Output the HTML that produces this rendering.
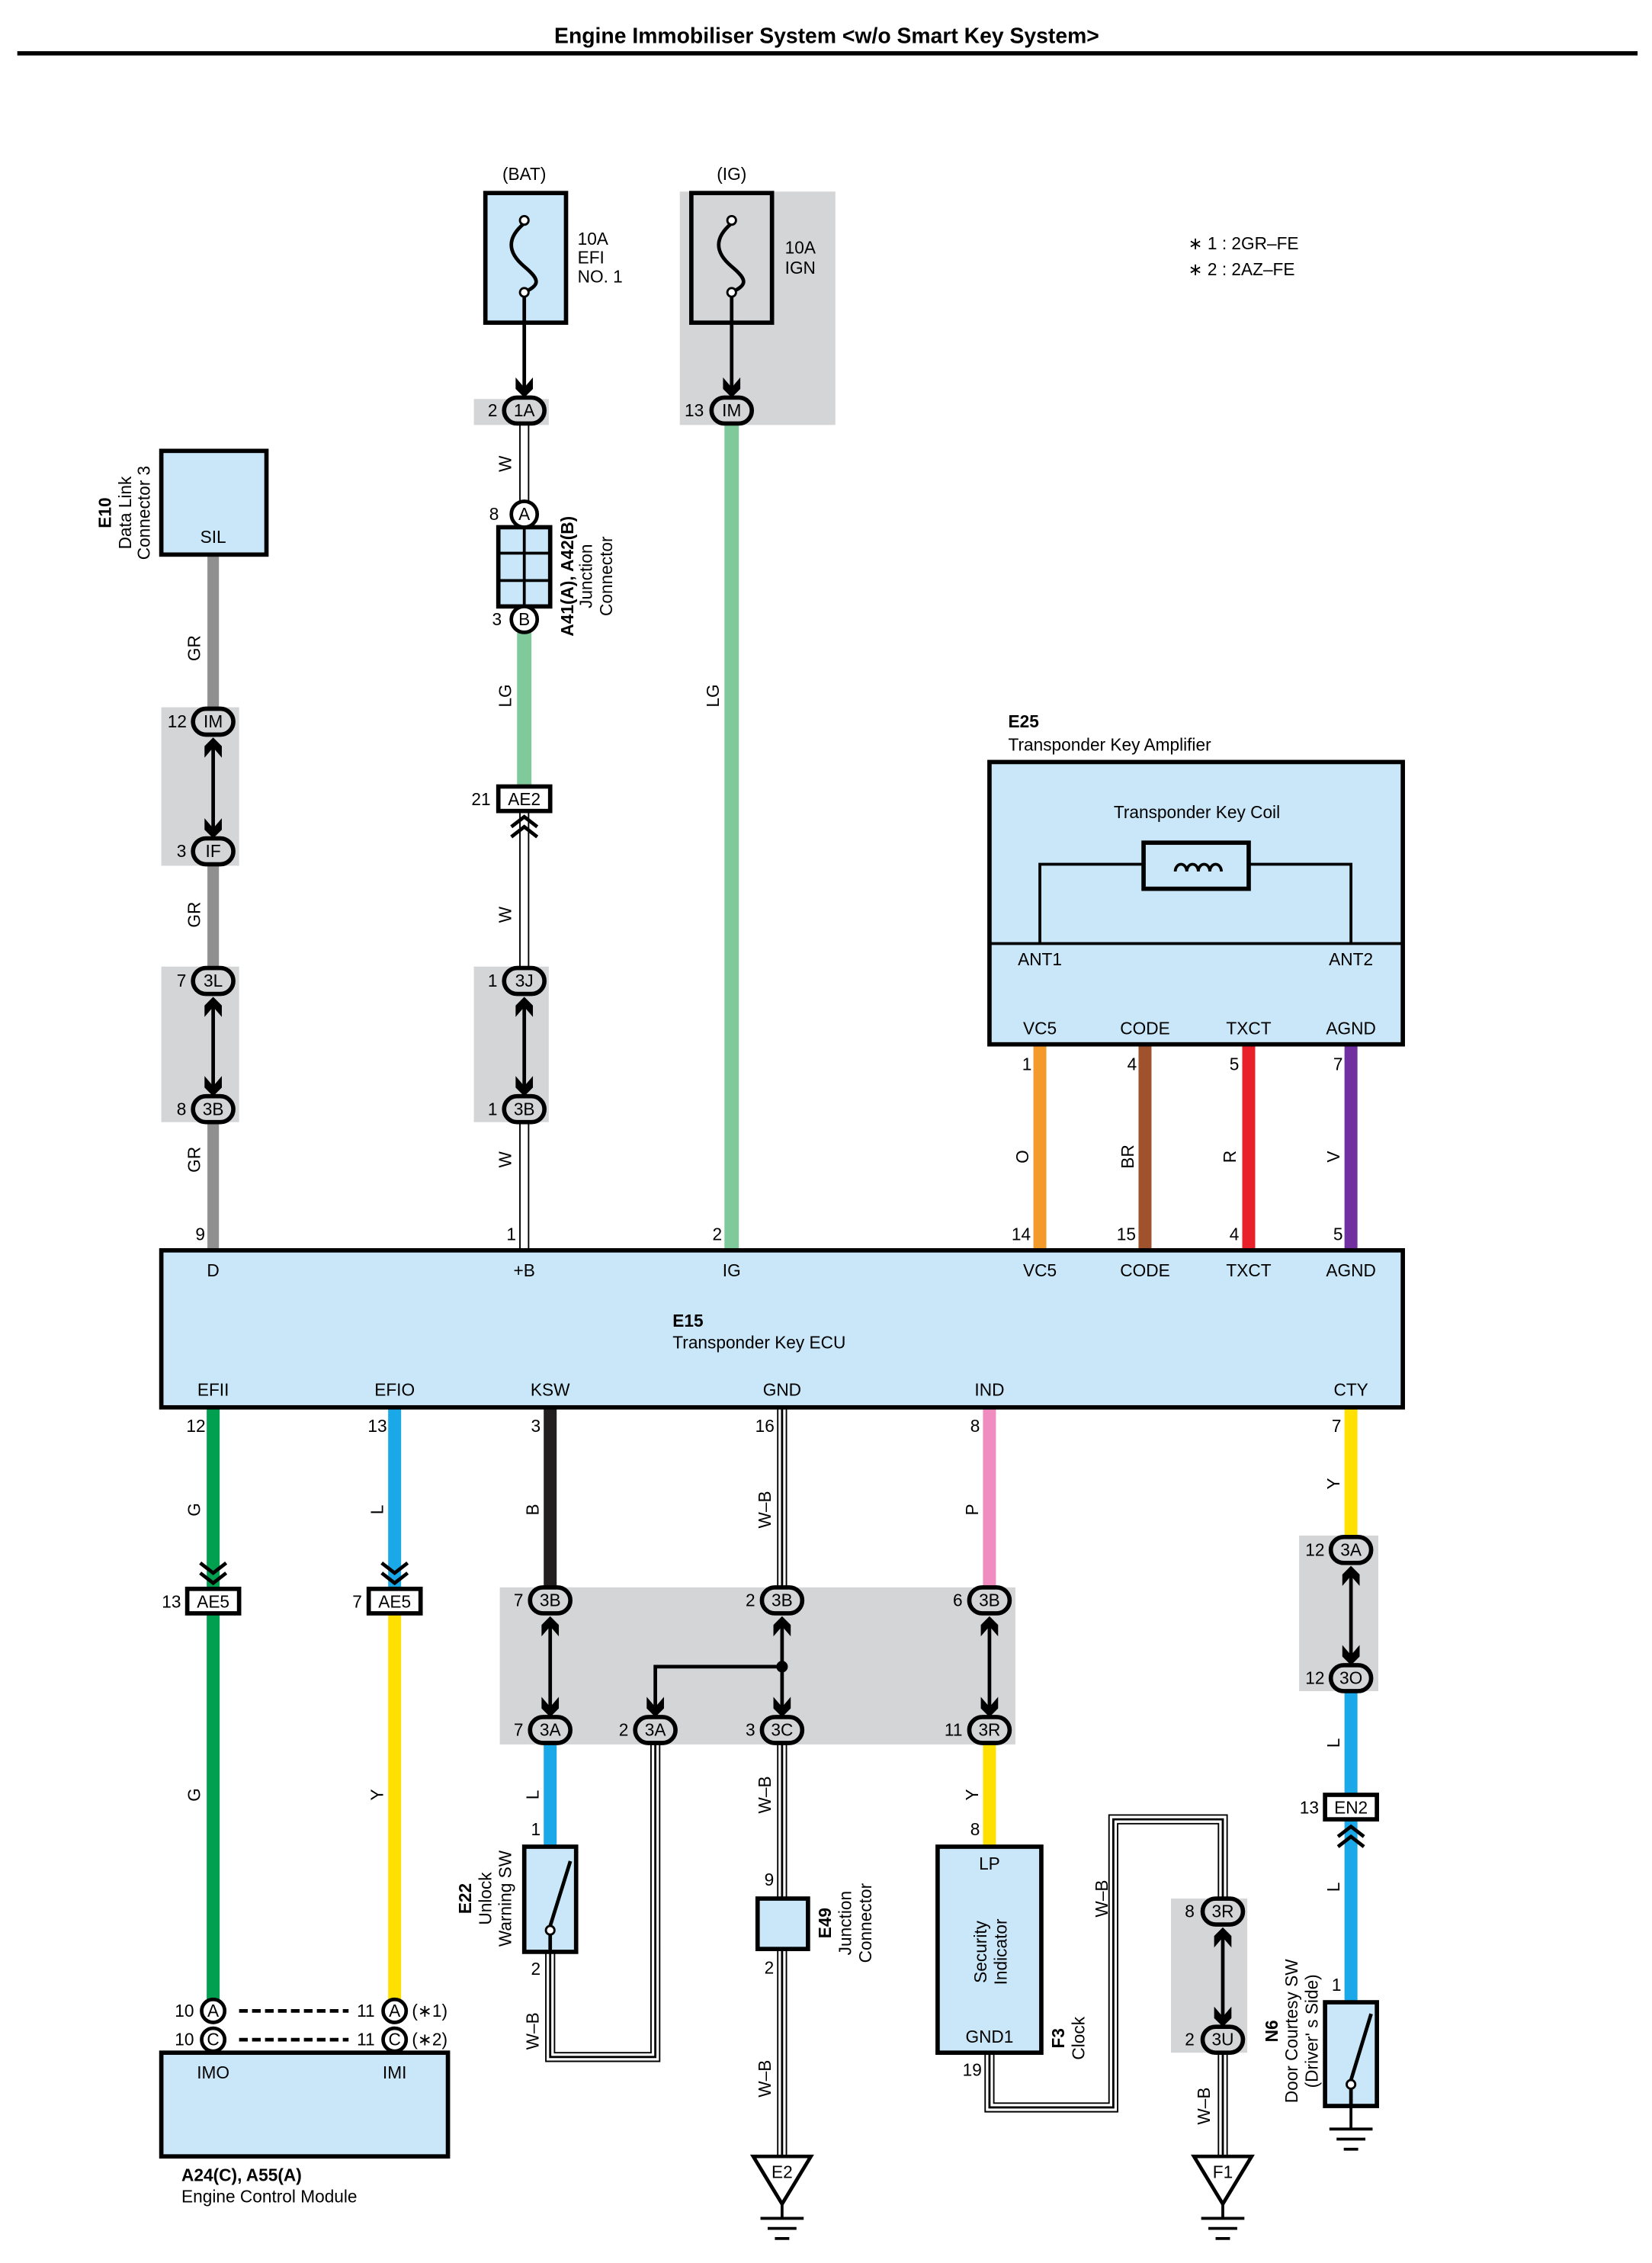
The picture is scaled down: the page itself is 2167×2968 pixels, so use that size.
<!DOCTYPE html>
<html><head><meta charset="utf-8"><style>
html,body{margin:0;padding:0;background:#fff}
svg{display:block}
text{font-family:"Liberation Sans",sans-serif;font-size:12px;fill:#000}
.b{font-weight:bold}
.c{text-anchor:middle}
.cn{font-size:12px;text-anchor:middle}
</style></head><body>
<svg width="2167" height="2968" viewBox="0 0 1147 1571" xmlns="http://www.w3.org/2000/svg">
<defs>
<g id="ad"><path d="M-6,-12 L0,-5 L6,-12 L6,-4 L0,2 L-6,-4 Z" fill="#000"/></g>
<g id="au"><path d="M-6,12 L0,5 L6,12 L6,4 L0,-2 L-6,4 Z" fill="#000"/></g>
</defs>
<rect width="1147" height="1571" fill="#fff"/>
<text x="574" y="30" class="b c" style="font-size:15px">Engine Immobiliser System &lt;w/o Smart Key System&gt;</text>
<line x1="12" y1="37" x2="1137" y2="37" stroke="#000" stroke-width="3"/>

<text x="825" y="173">∗ 1 : 2GR–FE</text>
<text x="825" y="191">∗ 2 : 2AZ–FE</text>

<!-- gray areas -->
<g fill="#d4d5d7">
<rect x="472" y="133" width="108" height="162"/>
<rect x="329" y="277" width="52" height="18"/>
<rect x="112" y="491" width="54" height="110"/>
<rect x="112" y="671" width="54" height="108"/>
<rect x="329" y="671" width="52" height="108"/>
<rect x="347" y="1102" width="358" height="109"/>
<rect x="902" y="1066" width="55" height="108"/>
<rect x="813" y="1318" width="53" height="107"/>
</g>

<!-- fuses -->
<text x="364" y="125" class="c">(BAT)</text>
<rect x="337" y="134" width="56" height="90" fill="#c9e7f8" stroke="#000" stroke-width="3"/>
<path d="M364,155 C352,165 352,175 364,185 C376,195 374,198 364,203" fill="none" stroke="#000" stroke-width="2.5"/>
<circle cx="364" cy="153" r="3" fill="#fff" stroke="#000" stroke-width="1.5"/>
<circle cx="364" cy="203" r="3" fill="#fff" stroke="#000" stroke-width="1.5"/>
<line x1="364" y1="206" x2="364" y2="272" stroke="#000" stroke-width="2.5"/>
<use href="#ad" x="364" y="274"/>
<text x="401" y="170">10A</text><text x="401" y="183">EFI</text><text x="401" y="196">NO. 1</text>

<text x="508" y="125" class="c">(IG)</text>
<rect x="480" y="134" width="56" height="90" fill="none" stroke="#000" stroke-width="3"/>
<path d="M508,155 C496,165 496,175 508,185 C520,195 518,198 508,203" fill="none" stroke="#000" stroke-width="2.5"/>
<circle cx="508" cy="153" r="3" fill="#fff" stroke="#000" stroke-width="1.5"/>
<circle cx="508" cy="203" r="3" fill="#fff" stroke="#000" stroke-width="1.5"/>
<line x1="508" y1="206" x2="508" y2="272" stroke="#000" stroke-width="2.5"/>
<use href="#ad" x="508" y="274"/>
<text x="545" y="176">10A</text><text x="545" y="190">IGN</text>

<!-- wires -->
<g fill="none">
<line x1="508" y1="294" x2="508" y2="868" stroke="#7fc99a" stroke-width="10"/>
<line x1="364" y1="439" x2="364" y2="546" stroke="#7fc99a" stroke-width="10"/>
<line x1="148" y1="385" x2="148" y2="492" stroke="#909090" stroke-width="8"/>
<line x1="148" y1="600" x2="148" y2="672" stroke="#909090" stroke-width="8"/>
<line x1="148" y1="779" x2="148" y2="868" stroke="#909090" stroke-width="8"/>
<line x1="722" y1="725" x2="722" y2="868" stroke="#f39a2b" stroke-width="9"/>
<line x1="795" y1="725" x2="795" y2="868" stroke="#a0522d" stroke-width="9"/>
<line x1="867" y1="725" x2="867" y2="868" stroke="#e8202a" stroke-width="9"/>
<line x1="938" y1="725" x2="938" y2="868" stroke="#7030a0" stroke-width="9"/>
<line x1="148" y1="977" x2="148" y2="1388" stroke="#00a050" stroke-width="9"/>
<line x1="274" y1="977" x2="274" y2="1103" stroke="#1aa8e8" stroke-width="9"/>
<line x1="274" y1="1120" x2="274" y2="1388" stroke="#ffe000" stroke-width="9"/>
<line x1="382" y1="977" x2="382" y2="1103" stroke="#231f20" stroke-width="9"/>
<line x1="382" y1="1211" x2="382" y2="1282" stroke="#1aa8e8" stroke-width="9"/>
<line x1="687" y1="977" x2="687" y2="1103" stroke="#f08cc0" stroke-width="9"/>
<line x1="687" y1="1211" x2="687" y2="1282" stroke="#ffe000" stroke-width="9"/>
<line x1="938" y1="977" x2="938" y2="1067" stroke="#ffe000" stroke-width="9"/>
<line x1="938" y1="1174" x2="938" y2="1390" stroke="#1aa8e8" stroke-width="9"/>
<!-- white double wires -->
<g stroke="#000" stroke-width="7">
<line x1="364" y1="294" x2="364" y2="349"/>
<line x1="364" y1="563" x2="364" y2="672"/>
<line x1="364" y1="779" x2="364" y2="868"/>
<line x1="543" y1="977" x2="543" y2="1102"/>
<line x1="543" y1="1210" x2="543" y2="1497"/>
<polyline points="382,1355 382,1428 455,1428 455,1211"/>
<polyline points="687,1425 687,1463 773,1463 773,1263 849,1263 849,1318"/>
<line x1="849" y1="1425" x2="849" y2="1497"/>
</g>
<g stroke="#fff" stroke-width="5">
<line x1="364" y1="294" x2="364" y2="349"/>
<line x1="364" y1="563" x2="364" y2="672"/>
<line x1="364" y1="779" x2="364" y2="868"/>
<line x1="543" y1="977" x2="543" y2="1102"/>
<line x1="543" y1="1210" x2="543" y2="1497"/>
<polyline points="382,1355 382,1428 455,1428 455,1211"/>
<polyline points="687,1425 687,1463 773,1463 773,1263 849,1263 849,1318"/>
<line x1="849" y1="1425" x2="849" y2="1497"/>
</g>
<g stroke="#000" stroke-width="1.5">
<line x1="543" y1="977" x2="543" y2="1102"/>
<line x1="543" y1="1210" x2="543" y2="1497"/>
<polyline points="382,1355 382,1428 455,1428 455,1211"/>
<polyline points="687,1425 687,1463 773,1463 773,1263 849,1263 849,1318"/>
<line x1="849" y1="1425" x2="849" y2="1497"/>
</g>
</g>

<!-- E10 -->
<rect x="112" y="313" width="73" height="72" fill="#c9e7f8" stroke="#000" stroke-width="3"/>
<text x="148" y="377" class="c">SIL</text>
<text transform="translate(77,356) rotate(-90)" class="b c">E10</text>
<text transform="translate(91,356) rotate(-90)" class="c">Data Link</text>
<text transform="translate(104,356) rotate(-90)" class="c">Connector 3</text>

<!-- Junction A41/A42 -->
<rect x="346" y="366" width="36" height="55" fill="#c9e7f8" stroke="#000" stroke-width="3"/>
<g stroke="#000" stroke-width="2"><line x1="364" y1="366" x2="364" y2="421"/><line x1="346" y1="384" x2="382" y2="384"/><line x1="346" y1="403" x2="382" y2="403"/></g>
<circle cx="364" cy="357" r="9" fill="#fff" stroke="#000" stroke-width="2.5"/><text x="364" y="361" class="cn">A</text>
<circle cx="364" cy="430" r="9" fill="#fff" stroke="#000" stroke-width="2.5"/><text x="364" y="434" class="cn">B</text>
<text x="343" y="361" class="c">8</text><text x="345" y="434" class="c">3</text>
<text transform="translate(398,400) rotate(-90)" class="b c">A41(A), A42(B)</text>
<text transform="translate(411,400) rotate(-90)" class="c">Junction</text>
<text transform="translate(425,400) rotate(-90)" class="c">Connector</text>

<!-- connector ovals -->
<g fill="#d4d5d7" stroke="#000" stroke-width="3">
<rect x="350" y="276" width="28" height="18" rx="9"/>
<rect x="494" y="276" width="28" height="18" rx="9"/>
<rect x="134" y="492" width="28" height="18" rx="9"/>
<rect x="134" y="582" width="28" height="18" rx="9"/>
<rect x="134" y="672" width="28" height="18" rx="9"/>
<rect x="134" y="761" width="28" height="18" rx="9"/>
<rect x="350" y="672" width="28" height="18" rx="9"/>
<rect x="350" y="761" width="28" height="18" rx="9"/>
<rect x="368" y="1102" width="28" height="18" rx="9"/>
<rect x="368" y="1192" width="28" height="18" rx="9"/>
<rect x="441" y="1192" width="28" height="18" rx="9"/>
<rect x="529" y="1102" width="28" height="18" rx="9"/>
<rect x="529" y="1192" width="28" height="18" rx="9"/>
<rect x="673" y="1102" width="28" height="18" rx="9"/>
<rect x="673" y="1192" width="28" height="18" rx="9"/>
<rect x="924" y="1067" width="28" height="18" rx="9"/>
<rect x="924" y="1156" width="28" height="18" rx="9"/>
<rect x="835" y="1318" width="28" height="18" rx="9"/>
<rect x="835" y="1407" width="28" height="18" rx="9"/>
</g>
<g class="cn">
<text x="364" y="289" class="cn">1A</text><text x="508" y="289" class="cn">IM</text>
<text x="148" y="505" class="cn">IM</text><text x="148" y="595" class="cn">IF</text>
<text x="148" y="685" class="cn">3L</text><text x="148" y="774" class="cn">3B</text>
<text x="364" y="685" class="cn">3J</text><text x="364" y="774" class="cn">3B</text>
<text x="382" y="1115" class="cn">3B</text><text x="382" y="1205" class="cn">3A</text>
<text x="455" y="1205" class="cn">3A</text>
<text x="543" y="1115" class="cn">3B</text><text x="543" y="1205" class="cn">3C</text>
<text x="687" y="1115" class="cn">3B</text><text x="687" y="1205" class="cn">3R</text>
<text x="938" y="1080" class="cn">3A</text><text x="938" y="1169" class="cn">3O</text>
<text x="849" y="1331" class="cn">3R</text><text x="849" y="1420" class="cn">3U</text>
</g>
<text x="342" y="289" class="c">2</text><text x="482" y="289" class="c">13</text>
<text x="123" y="505" class="c">12</text><text x="126" y="595" class="c">3</text>
<text x="126" y="685" class="c">7</text><text x="126" y="774" class="c">8</text>
<text x="342" y="685" class="c">1</text><text x="342" y="774" class="c">1</text>
<text x="360" y="1115" class="c">7</text><text x="360" y="1205" class="c">7</text>
<text x="433" y="1205" class="c">2</text>
<text x="521" y="1115" class="c">2</text><text x="521" y="1205" class="c">3</text>
<text x="665" y="1115" class="c">6</text><text x="662" y="1205" class="c">11</text>
<text x="913" y="1080" class="c">12</text><text x="913" y="1169" class="c">12</text>
<text x="826" y="1331" class="c">8</text><text x="826" y="1420" class="c">2</text>

<!-- bidirectional arrows -->
<g stroke="#000" stroke-width="2.5">
<line x1="148" y1="515" x2="148" y2="578"/><line x1="148" y1="695" x2="148" y2="757"/>
<line x1="364" y1="695" x2="364" y2="757"/>
<line x1="382" y1="1125" x2="382" y2="1188"/><line x1="687" y1="1125" x2="687" y2="1188"/>
<line x1="543" y1="1125" x2="543" y2="1188"/>
<polyline points="543,1157 455,1157 455,1188" fill="none"/>
<line x1="938" y1="1090" x2="938" y2="1152"/><line x1="849" y1="1341" x2="849" y2="1403"/>
</g>
<circle cx="543" cy="1157" r="4" fill="#000"/>
<use href="#au" x="148" y="514"/><use href="#ad" x="148" y="580"/>
<use href="#au" x="148" y="694"/><use href="#ad" x="148" y="759"/>
<use href="#au" x="364" y="694"/><use href="#ad" x="364" y="759"/>
<use href="#au" x="382" y="1124"/><use href="#ad" x="382" y="1190"/>
<use href="#au" x="543" y="1124"/><use href="#ad" x="543" y="1190"/><use href="#ad" x="455" y="1190"/>
<use href="#au" x="687" y="1124"/><use href="#ad" x="687" y="1190"/>
<use href="#au" x="938" y="1089"/><use href="#ad" x="938" y="1154"/>
<use href="#au" x="849" y="1340"/><use href="#ad" x="849" y="1405"/>

<!-- rectangular connectors -->
<g fill="#fff" stroke="#000" stroke-width="3">
<rect x="346" y="546" width="36" height="17"/>
<rect x="130" y="1103" width="36" height="17"/>
<rect x="256" y="1103" width="36" height="17"/>
<rect x="920" y="1246" width="36" height="17"/>
</g>
<text x="364" y="559" class="cn">AE2</text><text x="148" y="1116" class="cn">AE5</text>
<text x="274" y="1116" class="cn">AE5</text><text x="938" y="1259" class="cn">EN2</text>
<text x="334" y="559" class="c">21</text><text x="119" y="1116" class="c">13</text>
<text x="248" y="1116" class="c">7</text><text x="909" y="1259" class="c">13</text>
<g fill="none" stroke="#000" stroke-width="2.5">
<polyline points="355,574 364,567 373,574"/><polyline points="355,581 364,574 373,581"/>
<polyline points="929,1275 938,1268 947,1275"/><polyline points="929,1282 938,1275 947,1282"/>
<polyline points="139,1085 148,1092 157,1085"/><polyline points="139,1092 148,1099 157,1092"/>
<polyline points="265,1085 274,1092 283,1085"/><polyline points="265,1092 274,1099 283,1092"/>
</g>

<!-- E25 -->
<text x="700" y="505" class="b">E25</text>
<text x="700" y="521">Transponder Key Amplifier</text>
<rect x="687" y="529" width="287" height="196" fill="#c9e7f8" stroke="#000" stroke-width="3"/>
<line x1="687" y1="655" x2="974" y2="655" stroke="#000" stroke-width="2"/>
<text x="831" y="568" class="c">Transponder Key Coil</text>
<polyline points="722,655 722,600 794,600" fill="none" stroke="#000" stroke-width="2"/>
<polyline points="867,600 938,600 938,655" fill="none" stroke="#000" stroke-width="2"/>
<rect x="794" y="585" width="73" height="32" fill="none" stroke="#000" stroke-width="3"/>
<path d="M816,605 a4,5 0 1 1 8,0 a4,5 0 1 1 8,0 a4,5 0 1 1 8,0 a4,5 0 1 1 8,0" fill="none" stroke="#000" stroke-width="2"/>
<text x="722" y="670" class="c">ANT1</text><text x="938" y="670" class="c">ANT2</text>
<text x="722" y="718" class="c">VC5</text><text x="795" y="718" class="c">CODE</text>
<text x="867" y="718" class="c">TXCT</text><text x="938" y="718" class="c">AGND</text>
<text x="713" y="743" class="c">1</text><text x="786" y="743" class="c">4</text>
<text x="857" y="743" class="c">5</text><text x="929" y="743" class="c">7</text>
<text x="709" y="861" class="c">14</text><text x="782" y="861" class="c">15</text>
<text x="857" y="861" class="c">4</text><text x="929" y="861" class="c">5</text>

<!-- wire color labels -->
<g class="c">
<text transform="translate(139,450) rotate(-90)" class="c">GR</text>
<text transform="translate(139,635) rotate(-90)" class="c">GR</text>
<text transform="translate(139,805) rotate(-90)" class="c">GR</text>
<text transform="translate(355,322) rotate(-90)" class="c">W</text>
<text transform="translate(355,483) rotate(-90)" class="c">LG</text>
<text transform="translate(355,635) rotate(-90)" class="c">W</text>
<text transform="translate(355,805) rotate(-90)" class="c">W</text>
<text transform="translate(499,483) rotate(-90)" class="c">LG</text>
<text transform="translate(714,803) rotate(-90)" class="c">O</text>
<text transform="translate(787,803) rotate(-90)" class="c">BR</text>
<text transform="translate(858,803) rotate(-90)" class="c">R</text>
<text transform="translate(930,803) rotate(-90)" class="c">V</text>
<text transform="translate(139,1048) rotate(-90)" class="c">G</text>
<text transform="translate(139,1246) rotate(-90)" class="c">G</text>
<text transform="translate(266,1048) rotate(-90)" class="c">L</text>
<text transform="translate(266,1246) rotate(-90)" class="c">Y</text>
<text transform="translate(374,1048) rotate(-90)" class="c">B</text>
<text transform="translate(374,1246) rotate(-90)" class="c">L</text>
<text transform="translate(374,1410) rotate(-90)" class="c">W–B</text>
<text transform="translate(535,1048) rotate(-90)" class="c">W–B</text>
<text transform="translate(535,1246) rotate(-90)" class="c">W–B</text>
<text transform="translate(535,1443) rotate(-90)" class="c">W–B</text>
<text transform="translate(679,1048) rotate(-90)" class="c">P</text>
<text transform="translate(679,1246) rotate(-90)" class="c">Y</text>
<text transform="translate(769,1318) rotate(-90)" class="c">W–B</text>
<text transform="translate(840,1462) rotate(-90)" class="c">W–B</text>
<text transform="translate(930,1030) rotate(-90)" class="c">Y</text>
<text transform="translate(930,1210) rotate(-90)" class="c">L</text>
<text transform="translate(930,1310) rotate(-90)" class="c">L</text>
</g>

<!-- E15 -->
<text x="139" y="861" class="c">9</text><text x="355" y="861" class="c">1</text><text x="498" y="861" class="c">2</text>
<rect x="112" y="868" width="862" height="109" fill="#c9e7f8" stroke="#000" stroke-width="3"/>
<text x="148" y="886" class="c">D</text><text x="364" y="886" class="c">+B</text><text x="508" y="886" class="c">IG</text>
<text x="722" y="886" class="c">VC5</text><text x="795" y="886" class="c">CODE</text>
<text x="867" y="886" class="c">TXCT</text><text x="938" y="886" class="c">AGND</text>
<text x="467" y="921" class="b">E15</text>
<text x="467" y="936">Transponder Key ECU</text>
<text x="148" y="969" class="c">EFII</text><text x="274" y="969" class="c">EFIO</text>
<text x="382" y="969" class="c">KSW</text><text x="543" y="969" class="c">GND</text>
<text x="687" y="969" class="c">IND</text><text x="938" y="969" class="c">CTY</text>
<text x="136" y="994" class="c">12</text><text x="262" y="994" class="c">13</text>
<text x="372" y="994" class="c">3</text><text x="531" y="994" class="c">16</text>
<text x="677" y="994" class="c">8</text><text x="928" y="994" class="c">7</text>

<!-- ECM -->
<g fill="#fff" stroke="#000" stroke-width="2.5">
<circle cx="148" cy="1396" r="8"/><circle cx="148" cy="1416" r="8"/>
<circle cx="274" cy="1396" r="8"/><circle cx="274" cy="1416" r="8"/>
</g>
<text x="148" y="1400" class="cn">A</text><text x="148" y="1420" class="cn">C</text>
<text x="274" y="1400" class="cn">A</text><text x="274" y="1420" class="cn">C</text>
<text x="128" y="1400" class="c">10</text><text x="128" y="1420" class="c">10</text>
<text x="254" y="1400" class="c">11</text><text x="254" y="1420" class="c">11</text>
<g stroke="#000" stroke-width="2.5" stroke-dasharray="6,3"><line x1="166" y1="1396" x2="242" y2="1396"/><line x1="166" y1="1416" x2="242" y2="1416"/></g>
<text x="286" y="1400">(∗1)</text><text x="286" y="1420">(∗2)</text>
<rect x="112" y="1425" width="199" height="72" fill="#c9e7f8" stroke="#000" stroke-width="3"/>
<text x="148" y="1443" class="c">IMO</text><text x="274" y="1443" class="c">IMI</text>
<text x="126" y="1514" class="b">A24(C), A55(A)</text>
<text x="126" y="1529">Engine Control Module</text>

<!-- E22 -->
<text x="372" y="1274" class="c">1</text><text x="372" y="1371" class="c">2</text>
<rect x="364" y="1282" width="36" height="73" fill="#c9e7f8" stroke="#000" stroke-width="3"/>
<circle cx="382" cy="1340" r="3" fill="#fff" stroke="#000" stroke-width="1.5"/>
<line x1="382" y1="1337" x2="396" y2="1292" stroke="#000" stroke-width="2.5"/>
<line x1="382" y1="1343" x2="382" y2="1355" stroke="#000" stroke-width="2.5"/>
<text transform="translate(327,1318) rotate(-90)" class="b c">E22</text>
<text transform="translate(341,1318) rotate(-90)" class="c">Unlock</text>
<text transform="translate(355,1318) rotate(-90)" class="c">Warning SW</text>

<!-- E49 -->
<rect x="526" y="1318" width="35" height="35" fill="#c9e7f8" stroke="#000" stroke-width="3"/>
<text x="534" y="1309" class="c">9</text><text x="534" y="1370" class="c">2</text>
<text transform="translate(577,1335) rotate(-90)" class="b c">E49</text>
<text transform="translate(591,1335) rotate(-90)" class="c">Junction</text>
<text transform="translate(605,1335) rotate(-90)" class="c">Connector</text>

<!-- F3 -->
<text x="677" y="1274" class="c">8</text>
<rect x="651" y="1282" width="72" height="143" fill="#c9e7f8" stroke="#000" stroke-width="3"/>
<text x="687" y="1298" class="c">LP</text>
<text transform="translate(685,1355) rotate(-90)" class="c">Security</text>
<text transform="translate(699,1355) rotate(-90)" class="c">Indicator</text>
<text x="687" y="1418" class="c">GND1</text>
<text x="675" y="1441" class="c">19</text>
<text transform="translate(739,1415) rotate(-90)" class="b c">F3</text>
<text transform="translate(753,1415) rotate(-90)" class="c">Clock</text>

<!-- N6 -->
<text x="928" y="1382" class="c">1</text>
<rect x="920" y="1390" width="36" height="72" fill="#c9e7f8" stroke="#000" stroke-width="3"/>
<circle cx="938" cy="1447" r="3" fill="#fff" stroke="#000" stroke-width="1.5"/>
<line x1="938" y1="1444" x2="952" y2="1398" stroke="#000" stroke-width="2.5"/>
<line x1="938" y1="1450" x2="938" y2="1462" stroke="#000" stroke-width="2.5"/>
<g stroke="#000" stroke-width="2"><line x1="938" y1="1462" x2="938" y2="1478"/><line x1="923" y1="1478" x2="953" y2="1478"/><line x1="928" y1="1485" x2="948" y2="1485"/><line x1="933" y1="1492" x2="943" y2="1492"/></g>
<text transform="translate(887,1410) rotate(-90)" class="b c">N6</text>
<text transform="translate(901,1410) rotate(-90)" class="c">Door Courtesy SW</text>
<text transform="translate(915,1410) rotate(-90)" class="c">(Driver' s Side)</text>

<!-- grounds -->
<g fill="#fff" stroke="#000" stroke-width="2.5">
<polygon points="523,1497 563,1497 543,1530"/>
<polygon points="829,1497 869,1497 849,1530"/>
</g>
<text x="543" y="1512" class="c">E2</text><text x="849" y="1512" class="c">F1</text>
<g stroke="#000" stroke-width="2">
<line x1="543" y1="1530" x2="543" y2="1540"/><line x1="528" y1="1540" x2="558" y2="1540"/><line x1="533" y1="1547" x2="553" y2="1547"/><line x1="538" y1="1554" x2="548" y2="1554"/>
<line x1="849" y1="1530" x2="849" y2="1540"/><line x1="834" y1="1540" x2="864" y2="1540"/><line x1="839" y1="1547" x2="859" y2="1547"/><line x1="844" y1="1554" x2="854" y2="1554"/>
</g>
</svg>
</body></html>
